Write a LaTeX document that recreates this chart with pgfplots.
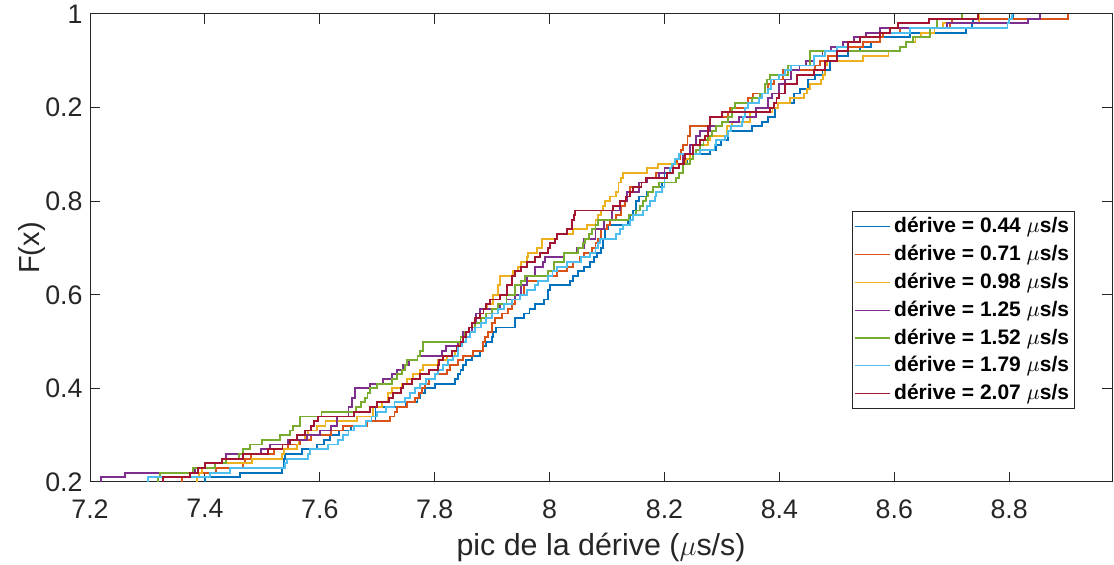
\documentclass[border=0pt]{standalone}
\usepackage{fontspec}
\setmainfont{Liberation Sans}
\usepackage{pgfplots}
\pgfplotsset{compat=1.18}
\definecolor{cB}{HTML}{0072BD}
\definecolor{cO}{HTML}{D95319}
\definecolor{cY}{HTML}{EDB120}
\definecolor{cP}{HTML}{7E2F8E}
\definecolor{cG}{HTML}{77AC30}
\definecolor{cL}{HTML}{4DBEEE}
\definecolor{cR}{HTML}{A2142F}
\definecolor{axc}{rgb}{0.15,0.15,0.15}
\begin{document}
\begin{tikzpicture}
\path[use as bounding box] (-45pt,-41.5pt) rectangle (512pt,241pt);
\begin{axis}[
  scale only axis, width=511pt, height=234pt,
  xmin=7.2, xmax=8.979, ymin=0, ymax=1,
  xtick={7.2,7.4,7.6,7.8,8,8.2,8.4,8.6,8.8},
  xticklabels={7.2,7.4,7.6,7.8,8,8.2,8.4,8.6,8.8},
  ytick={0,0.2,0.4,0.6,0.8,1},
  yticklabels={0.2,0.4,0.6,0.8,0.2,1},
  tick align=inside, major tick length=5pt,
  axis line style={axc, line width=0.5pt},
  tick style={axc, line width=0.5pt},
  ticklabel style={font=\fontsize{13.4}{15}\selectfont, text=axc},
  xticklabel style={inner sep=0pt, yshift=-8.5pt},
  yticklabel style={inner sep=0pt, xshift=-3.5pt},
  xlabel={pic de la dérive ($\mu$s/s)}, ylabel={F(x)},
  xlabel style={font=\fontsize{15.2}{17}\selectfont, text=axc, at={(axis description cs:0.5,-0.156)}, anchor=base},
  ylabel style={font=\fontsize{14.5}{16}\selectfont, text=axc, at={(axis description cs:-0.0499,0.5)}, anchor=base},
  legend style={at={(0.964,0.578)}, anchor=north east, draw=axc, line width=0.5pt,
    font=\fontsize{10.5}{12}\selectfont\bfseries, inner sep=0.8pt, row sep=0.7pt},
  legend cell align=left,
  legend image code/.code={\draw[#1, line width=0.6pt] (-1pt,0pt) -- (16.5pt,0pt);},
  every axis plot/.append style={const plot, line width=0.95pt},
]
\addplot[cB] coordinates {(7.400,0)(7.400,0.01)(7.461,0.02)(7.534,0.03)(7.537,0.05)(7.540,0.06)(7.569,0.07)(7.595,0.08)(7.608,0.09)(7.618,0.10)(7.634,0.11)(7.655,0.12)(7.680,0.13)(7.697,0.16)(7.750,0.17)(7.770,0.18)(7.775,0.19)(7.783,0.20)(7.800,0.21)(7.835,0.22)(7.840,0.23)(7.845,0.24)(7.850,0.25)(7.855,0.26)(7.865,0.27)(7.879,0.28)(7.885,0.29)(7.890,0.30)(7.900,0.31)(7.902,0.32)(7.906,0.33)(7.940,0.35)(7.955,0.36)(7.965,0.37)(7.975,0.38)(7.990,0.39)(7.997,0.41)(8.000,0.42)(8.035,0.43)(8.040,0.44)(8.050,0.45)(8.060,0.46)(8.070,0.47)(8.078,0.48)(8.083,0.49)(8.090,0.50)(8.093,0.52)(8.097,0.54)(8.102,0.55)(8.137,0.56)(8.140,0.57)(8.145,0.58)(8.150,0.60)(8.155,0.61)(8.170,0.62)(8.180,0.63)(8.195,0.64)(8.200,0.66)(8.215,0.67)(8.225,0.68)(8.240,0.69)(8.250,0.70)(8.280,0.71)(8.290,0.72)(8.298,0.73)(8.310,0.75)(8.352,0.76)(8.370,0.77)(8.380,0.78)(8.393,0.80)(8.397,0.81)(8.425,0.83)(8.436,0.84)(8.450,0.86)(8.462,0.87)(8.475,0.88)(8.488,0.90)(8.500,0.91)(8.520,0.92)(8.540,0.93)(8.560,0.94)(8.575,0.95)(8.628,0.96)(8.725,0.97)(8.735,0.98)(8.737,0.99)(8.807,1.00)};
\addplot[cO] coordinates {(7.360,0)(7.360,0.01)(7.390,0.02)(7.420,0.03)(7.467,0.04)(7.470,0.05)(7.480,0.06)(7.520,0.07)(7.545,0.08)(7.565,0.09)(7.585,0.10)(7.620,0.11)(7.640,0.12)(7.682,0.13)(7.722,0.14)(7.730,0.15)(7.734,0.16)(7.752,0.17)(7.765,0.18)(7.773,0.19)(7.778,0.20)(7.783,0.21)(7.790,0.22)(7.800,0.23)(7.821,0.24)(7.826,0.25)(7.841,0.26)(7.850,0.27)(7.867,0.28)(7.884,0.30)(7.888,0.31)(7.893,0.32)(7.900,0.34)(7.905,0.35)(7.917,0.36)(7.927,0.37)(7.935,0.38)(7.940,0.39)(7.949,0.40)(7.955,0.42)(7.960,0.43)(7.998,0.44)(8.013,0.45)(8.030,0.46)(8.040,0.47)(8.053,0.48)(8.060,0.49)(8.074,0.50)(8.080,0.51)(8.085,0.52)(8.090,0.54)(8.100,0.55)(8.105,0.56)(8.115,0.57)(8.125,0.59)(8.132,0.60)(8.135,0.62)(8.140,0.63)(8.155,0.64)(8.170,0.65)(8.185,0.66)(8.200,0.67)(8.215,0.68)(8.222,0.69)(8.227,0.70)(8.229,0.71)(8.232,0.72)(8.240,0.74)(8.245,0.76)(8.280,0.78)(8.311,0.79)(8.314,0.80)(8.346,0.82)(8.354,0.83)(8.380,0.85)(8.390,0.86)(8.406,0.88)(8.462,0.89)(8.470,0.90)(8.485,0.91)(8.500,0.92)(8.520,0.93)(8.545,0.94)(8.575,0.95)(8.580,0.96)(8.610,0.97)(8.697,0.98)(8.700,0.99)(8.903,1.00)};
\addplot[cY] coordinates {(7.386,0)(7.386,0.01)(7.390,0.02)(7.395,0.03)(7.400,0.04)(7.482,0.05)(7.534,0.06)(7.537,0.07)(7.560,0.08)(7.563,0.09)(7.575,0.10)(7.580,0.11)(7.595,0.12)(7.610,0.13)(7.665,0.14)(7.693,0.16)(7.708,0.17)(7.719,0.19)(7.726,0.20)(7.743,0.21)(7.752,0.22)(7.762,0.23)(7.775,0.24)(7.780,0.25)(7.806,0.26)(7.821,0.27)(7.835,0.28)(7.841,0.29)(7.843,0.30)(7.850,0.31)(7.855,0.32)(7.860,0.33)(7.865,0.34)(7.870,0.35)(7.879,0.36)(7.885,0.37)(7.891,0.38)(7.902,0.40)(7.910,0.42)(7.914,0.44)(7.937,0.45)(7.945,0.46)(7.950,0.47)(7.960,0.48)(7.963,0.49)(7.978,0.50)(7.987,0.52)(8.013,0.53)(8.040,0.54)(8.065,0.55)(8.080,0.56)(8.085,0.57)(8.090,0.58)(8.093,0.59)(8.097,0.60)(8.105,0.61)(8.115,0.62)(8.120,0.64)(8.125,0.65)(8.128,0.66)(8.170,0.67)(8.188,0.68)(8.237,0.69)(8.245,0.70)(8.255,0.71)(8.262,0.72)(8.275,0.73)(8.280,0.74)(8.309,0.76)(8.318,0.77)(8.349,0.79)(8.388,0.80)(8.397,0.81)(8.418,0.82)(8.443,0.83)(8.448,0.84)(8.453,0.85)(8.472,0.86)(8.476,0.87)(8.480,0.89)(8.483,0.90)(8.545,0.91)(8.590,0.92)(8.610,0.93)(8.620,0.94)(8.637,0.95)(8.646,0.96)(8.670,0.97)(8.685,0.98)(8.748,1.00)};
\addplot[cP] coordinates {(7.219,0)(7.219,0.01)(7.261,0.02)(7.383,0.03)(7.400,0.04)(7.430,0.05)(7.437,0.06)(7.497,0.07)(7.514,0.08)(7.545,0.09)(7.578,0.10)(7.600,0.11)(7.620,0.12)(7.630,0.14)(7.650,0.16)(7.656,0.18)(7.662,0.20)(7.687,0.21)(7.710,0.22)(7.725,0.23)(7.735,0.24)(7.745,0.25)(7.755,0.26)(7.770,0.27)(7.813,0.28)(7.820,0.29)(7.840,0.30)(7.850,0.32)(7.865,0.34)(7.872,0.36)(7.879,0.37)(7.914,0.38)(7.925,0.39)(7.940,0.40)(7.950,0.42)(7.960,0.44)(7.975,0.46)(7.989,0.47)(7.992,0.48)(8.025,0.49)(8.048,0.50)(8.060,0.52)(8.080,0.54)(8.095,0.56)(8.108,0.58)(8.122,0.60)(8.135,0.62)(8.155,0.64)(8.170,0.65)(8.190,0.66)(8.200,0.67)(8.225,0.68)(8.232,0.70)(8.245,0.72)(8.255,0.74)(8.262,0.75)(8.279,0.76)(8.301,0.77)(8.330,0.78)(8.360,0.80)(8.380,0.82)(8.387,0.83)(8.400,0.85)(8.410,0.86)(8.420,0.88)(8.435,0.89)(8.447,0.90)(8.460,0.91)(8.475,0.92)(8.490,0.93)(8.510,0.94)(8.530,0.95)(8.550,0.96)(8.575,0.97)(8.692,0.98)(8.833,0.99)(8.854,1.00)};
\addplot[cG] coordinates {(7.318,0)(7.318,0.01)(7.322,0.02)(7.379,0.03)(7.418,0.04)(7.437,0.05)(7.460,0.06)(7.467,0.07)(7.478,0.08)(7.500,0.09)(7.530,0.10)(7.548,0.11)(7.553,0.12)(7.565,0.14)(7.603,0.15)(7.663,0.16)(7.672,0.17)(7.678,0.18)(7.683,0.19)(7.687,0.20)(7.700,0.21)(7.725,0.22)(7.735,0.23)(7.743,0.24)(7.748,0.25)(7.752,0.26)(7.770,0.27)(7.775,0.28)(7.780,0.30)(7.845,0.31)(7.852,0.32)(7.860,0.33)(7.870,0.34)(7.880,0.35)(7.890,0.36)(7.900,0.37)(7.910,0.38)(7.925,0.40)(7.940,0.42)(7.950,0.43)(7.957,0.44)(7.998,0.45)(8.008,0.47)(8.025,0.49)(8.050,0.50)(8.058,0.51)(8.062,0.52)(8.068,0.53)(8.074,0.54)(8.080,0.55)(8.085,0.56)(8.138,0.57)(8.150,0.58)(8.158,0.59)(8.163,0.60)(8.168,0.61)(8.172,0.62)(8.180,0.63)(8.190,0.64)(8.220,0.65)(8.225,0.66)(8.232,0.68)(8.245,0.69)(8.250,0.70)(8.255,0.71)(8.262,0.72)(8.268,0.73)(8.275,0.74)(8.282,0.75)(8.290,0.76)(8.300,0.77)(8.310,0.78)(8.318,0.80)(8.323,0.81)(8.352,0.82)(8.366,0.83)(8.375,0.85)(8.378,0.86)(8.384,0.87)(8.415,0.89)(8.453,0.92)(8.610,0.93)(8.620,0.94)(8.633,0.95)(8.662,0.97)(8.675,0.99)(8.718,1.00)};
\addplot[cL] coordinates {(7.301,0)(7.301,0.01)(7.409,0.02)(7.444,0.03)(7.540,0.04)(7.543,0.05)(7.580,0.06)(7.583,0.07)(7.615,0.08)(7.632,0.09)(7.640,0.10)(7.650,0.11)(7.660,0.12)(7.680,0.13)(7.690,0.14)(7.700,0.15)(7.715,0.16)(7.730,0.17)(7.748,0.18)(7.757,0.19)(7.765,0.20)(7.775,0.21)(7.785,0.22)(7.800,0.23)(7.805,0.24)(7.815,0.25)(7.823,0.26)(7.832,0.27)(7.840,0.29)(7.848,0.30)(7.855,0.31)(7.862,0.32)(7.870,0.33)(7.880,0.34)(7.890,0.35)(7.900,0.36)(7.910,0.37)(7.920,0.38)(7.935,0.39)(7.949,0.40)(7.960,0.41)(7.975,0.42)(7.980,0.43)(7.997,0.44)(8.005,0.45)(8.013,0.46)(8.030,0.47)(8.055,0.48)(8.070,0.49)(8.080,0.50)(8.085,0.51)(8.088,0.52)(8.115,0.53)(8.123,0.54)(8.128,0.55)(8.140,0.56)(8.145,0.57)(8.163,0.58)(8.170,0.59)(8.175,0.60)(8.183,0.61)(8.185,0.62)(8.195,0.63)(8.200,0.65)(8.205,0.66)(8.210,0.67)(8.213,0.68)(8.218,0.69)(8.225,0.70)(8.262,0.71)(8.287,0.72)(8.290,0.73)(8.305,0.74)(8.310,0.75)(8.315,0.76)(8.335,0.77)(8.337,0.78)(8.340,0.80)(8.345,0.81)(8.365,0.82)(8.370,0.83)(8.380,0.84)(8.385,0.86)(8.400,0.87)(8.410,0.88)(8.420,0.89)(8.460,0.91)(8.480,0.92)(8.500,0.93)(8.520,0.94)(8.540,0.95)(8.575,0.96)(8.628,0.97)(8.797,0.98)(8.800,0.99)(8.805,1.00)};
\addplot[cR] coordinates {(7.327,0)(7.327,0.01)(7.374,0.02)(7.388,0.03)(7.400,0.04)(7.430,0.05)(7.466,0.06)(7.510,0.07)(7.535,0.08)(7.548,0.09)(7.560,0.10)(7.575,0.11)(7.585,0.12)(7.590,0.13)(7.597,0.14)(7.660,0.15)(7.687,0.16)(7.700,0.17)(7.720,0.18)(7.728,0.19)(7.742,0.20)(7.745,0.21)(7.760,0.22)(7.775,0.23)(7.790,0.24)(7.805,0.25)(7.808,0.26)(7.815,0.27)(7.830,0.28)(7.838,0.29)(7.845,0.30)(7.850,0.31)(7.855,0.32)(7.860,0.33)(7.865,0.34)(7.870,0.35)(7.879,0.36)(7.885,0.37)(7.890,0.38)(7.896,0.39)(7.914,0.40)(7.926,0.42)(7.935,0.44)(7.940,0.45)(7.950,0.46)(7.961,0.47)(7.975,0.48)(7.983,0.49)(7.997,0.50)(8.000,0.51)(8.010,0.52)(8.013,0.53)(8.030,0.54)(8.039,0.56)(8.042,0.57)(8.045,0.58)(8.110,0.59)(8.122,0.60)(8.133,0.61)(8.140,0.62)(8.145,0.63)(8.160,0.64)(8.168,0.65)(8.205,0.66)(8.215,0.67)(8.225,0.68)(8.234,0.69)(8.236,0.70)(8.250,0.72)(8.262,0.73)(8.270,0.74)(8.275,0.76)(8.280,0.78)(8.300,0.79)(8.384,0.80)(8.390,0.81)(8.395,0.82)(8.400,0.83)(8.410,0.85)(8.430,0.87)(8.460,0.88)(8.480,0.90)(8.500,0.92)(8.520,0.94)(8.540,0.95)(8.575,0.96)(8.593,0.97)(8.607,0.98)(8.660,0.99)(8.746,1.00)};
\legend{dérive = 0.44 $\mu$s/s, dérive = 0.71 $\mu$s/s, dérive = 0.98 $\mu$s/s, dérive = 1.25 $\mu$s/s, dérive = 1.52 $\mu$s/s, dérive = 1.79 $\mu$s/s, dérive = 2.07 $\mu$s/s}
\end{axis}
\end{tikzpicture}
\end{document}
